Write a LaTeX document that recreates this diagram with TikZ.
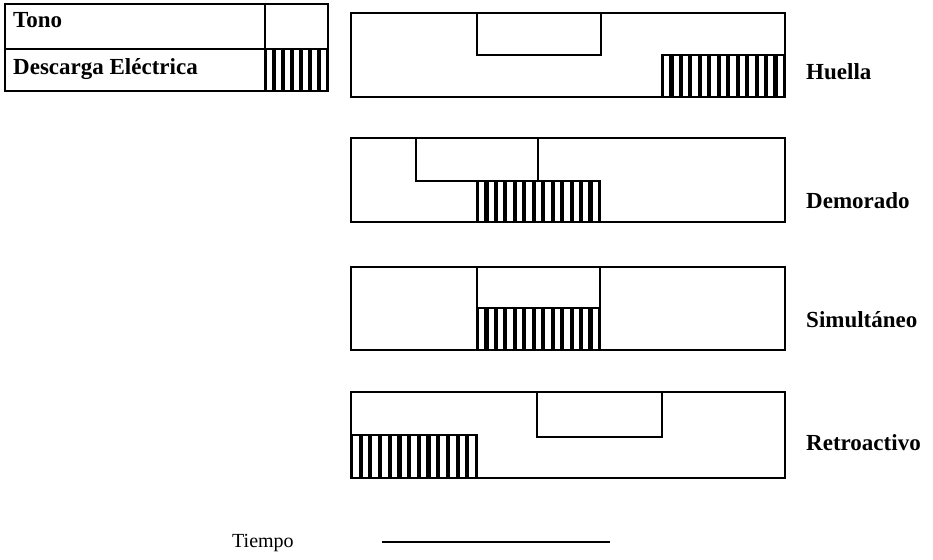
\documentclass[tikz,border=0pt]{standalone}
\usepackage{fontspec}
\setmainfont{Liberation Serif}
\newcommand\hatchfill[4]{%
  \begin{scope}
  \clip (#1,#2) rectangle (#3,#4);
  \pgfmathtruncatemacro\nst{round((#3-#1)/9.5)}
  \pgfmathsetmacro\stp{(#3-#1)/\nst}
  \foreach \k in {0,...,\nst}{\fill (#1+\k*\stp-2.1,#2) rectangle (#1+\k*\stp+2.1,#4);}
  \end{scope}
  \draw[boxline] (#1,#2) rectangle (#3,#4);}
\tikzset{
  boxline/.style={line width=1.3pt},
  lab/.style={anchor=base west, inner sep=0pt, font=\bfseries\fontsize{23}{26}\selectfont},
  plainlab/.style={anchor=base west, inner sep=0pt, font=\fontsize{20}{23}\selectfont}
}
\begin{document}
\begin{tikzpicture}[x=1pt,y=-1pt]
\useasboundingbox[fill=white] (0,0) rectangle (933,559);
% legend
\draw[boxline] (5,4) rectangle (328,91);
\draw[boxline] (5,49) -- (328,49);
\draw[boxline] (265,4) -- (265,91);
\hatchfill{265}{49}{328}{91}
\node[lab] (tono) at (13,28) {Tono};
\node[lab] (descarga) at (13,75) {Descarga Eléctrica};
% Huella
\draw[boxline] (351,13) rectangle (785,97);
\draw[boxline] (477,13) rectangle (601,55);
\hatchfill{662}{55}{785}{97}
\node[lab] (huella) at (806,80) {Huella};
% Demorado
\draw[boxline] (351,138) rectangle (785,222);
\draw[boxline] (416,138) rectangle (538,181);
\hatchfill{477}{181}{600}{222}
\node[lab] (demorado) at (806,208) {Demorado};
% Simultaneo
\draw[boxline] (351,267) rectangle (785,350);
\draw[boxline] (477,267) rectangle (600,308);
\hatchfill{477}{308}{600}{350}
\node[lab] (simult) at (806,327) {Simultáneo};
% Retroactivo
\draw[boxline] (351,392) rectangle (785,478);
\draw[boxline] (537,392) rectangle (662,437);
\hatchfill{351}{435}{477}{478}
\node[lab] (retro) at (806,450) {Retroactivo};
% Tiempo
\node[plainlab] (tiempo) at (232,547) {Tiempo};
\coordinate (t1) at (382,542);
\coordinate (t2) at (610,542);
\draw[boxline] (t1) -- (t2);
\end{tikzpicture}
\end{document}
